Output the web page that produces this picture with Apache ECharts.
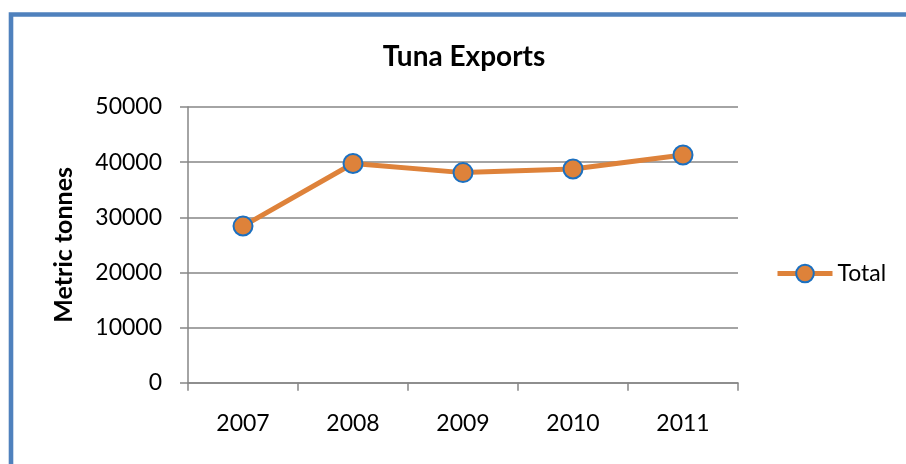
<!DOCTYPE html>
<html>
<head>
<meta charset="utf-8">
<script src="https://cdn.jsdelivr.net/npm/echarts@6/dist/echarts.min.js"></script>
<style>
html,body{margin:0;padding:0;background:#fff;}
#c{width:906px;height:464px;}
</style>
</head>
<body>
<div id="c"></div>
<script>
var categories = ['2007', '2008', '2009', '2010', '2011'];
var totalValues = [28400, 39750, 38100, 38750, 41300];
var yTicks = { min: 0, max: 50000, interval: 10000 };
var seriesName = 'Total';
var chartTitle = 'Tuna Exports';
var yAxisTitle = 'Metric tonnes';

var chart = echarts.init(document.getElementById('c'), null, { renderer: 'canvas' });
var FONT = 'Lato';
var GRID = '#868686';
var ORANGE = '#DE823A';
var option = {
  backgroundColor: '#ffffff',
  animation: false,
  title: {
    text: chartTitle,
    left: 459, top: 38, textAlign: 'center',
    textStyle: { fontFamily: FONT, fontWeight: 'bold', fontSize: 28, color: '#000' }
  },
  graphic: [
    { type: 'rect', shape: { x: 11, y: 14.5, width: 1200, height: 1200 },
      style: { fill: 'none', stroke: '#4F81BD', lineWidth: 4.6 }, z: 100, silent: true }
  ],
  legend: {
    data: [seriesName],
    orient: 'vertical',
    left: 775, top: 262, padding: 0,
    itemWidth: 55, itemHeight: 22, itemGap: 0,
    lineStyle: { width: 5, color: ORANGE },
    textStyle: { fontFamily: FONT, fontSize: 23, color: '#000' }
  },
  grid: { left: 188, right: 168, top: 107, bottom: 81.3, containLabel: false },
  xAxis: {
    type: 'category',
    data: categories,
    boundaryGap: true,
    axisLine: { show: true, lineStyle: { color: GRID, width: 1.5 } },
    axisTick: { show: true, length: 8, alignWithLabel: false, lineStyle: { color: GRID, width: 1.5 } },
    axisLabel: { fontFamily: FONT, fontSize: 23, color: '#000', margin: 29 },
    splitLine: { show: false }
  },
  yAxis: {
    type: 'value',
    min: yTicks.min, max: yTicks.max, interval: yTicks.interval,
    name: yAxisTitle,
    nameLocation: 'middle',
    nameGap: 112,
    nameRotate: 90,
    nameTextStyle: { fontFamily: FONT, fontWeight: 'bold', fontSize: 25, color: '#000' },
    axisLine: { show: true, lineStyle: { color: GRID, width: 1.5 } },
    axisTick: { show: true, length: 8, lineStyle: { color: GRID, width: 1.5 } },
    axisLabel: { fontFamily: FONT, fontSize: 23, color: '#000', margin: 26,
      formatter: function (v) { return String(v); } },
    splitLine: { show: true, lineStyle: { color: GRID, width: 1.5 } }
  },
  series: [{
    name: seriesName,
    type: 'line',
    data: totalValues,
    symbol: 'circle',
    symbolSize: 19,
    lineStyle: { color: ORANGE, width: 5 },
    itemStyle: { color: ORANGE, borderColor: '#1C70C0', borderWidth: 2 },
    z: 3
  }]
};
chart.setOption(option);
</script>
</body>
</html>
